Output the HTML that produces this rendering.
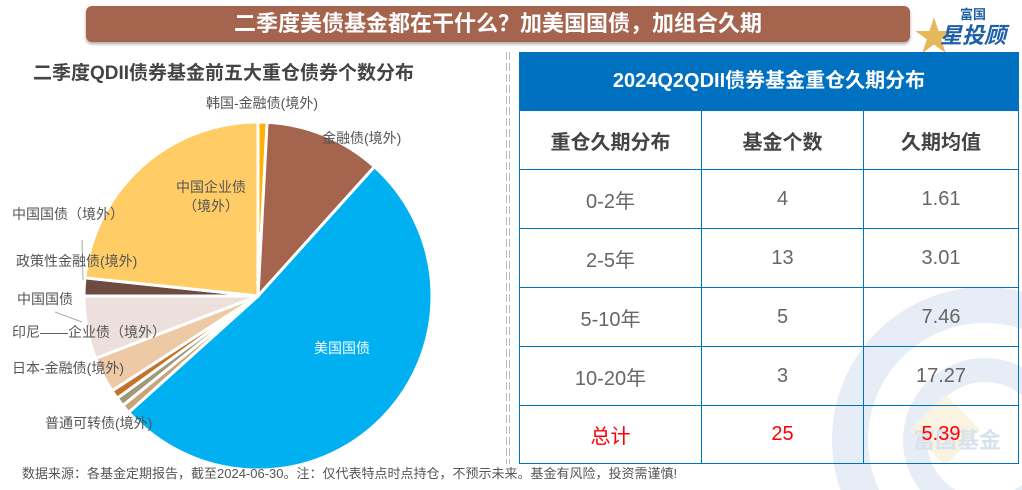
<!DOCTYPE html>
<html style="overflow:hidden;width:1022px;height:490px"><head><meta charset="utf-8">
<style>
html,body{margin:0;width:1022px;height:490px;overflow:hidden;}
body{background:#fff;position:relative;font-family:"Liberation Sans","Noto Sans CJK SC",sans-serif;}
.abs{position:absolute;}
table{border-collapse:collapse;table-layout:fixed;}
td{padding:0;border:1px solid #0070c0;text-align:center;box-sizing:border-box;}
</style></head><body>
<svg class="abs" style="left:0;top:0" width="1022" height="490">
  <circle cx="985" cy="440" r="135" fill="none" stroke="#e6edf6" stroke-width="36"/>
  <circle cx="985" cy="440" r="70" fill="none" stroke="#e6edf6" stroke-width="24"/>
  <rect x="920" y="405" width="50" height="50" fill="#fbf3e2" transform="rotate(45 945 430)"/>
  <text x="913" y="448" font-size="22" font-weight="bold" fill="#d8e1ee" font-family="Liberation Sans,Noto Sans CJK SC,sans-serif">富国基金</text>
</svg>
<div class="abs" style="left:86px;top:6px;width:824px;height:36px;background:#a5644e;border-radius:6px;box-shadow:0 2px 3px rgba(0,0,0,.35);color:#fff;font-weight:bold;font-size:22px;line-height:36px;text-align:center;">二季度美债基金都在干什么？加美国国债，加组合久期</div>
<div class="abs" style="left:914px;top:2px;width:106px;height:46px;">
  <span class="abs" style="left:0;top:2px;font-size:40px;color:#e6b85c;">★</span>
  <span class="abs" style="left:46px;top:2px;font-size:13px;font-weight:bold;color:#1f5fa8;">富国</span>
  <span class="abs" style="left:26px;top:16px;font-size:22px;font-weight:bold;color:#1f5fa8;font-style:italic;">星投顾</span>
</div>
<div class="abs" style="left:33px;top:58px;font-size:19px;font-weight:bold;color:#444;">二季度QDII债券基金前五大重仓债券个数分布</div>
<svg class="abs" style="left:505px;top:52px" width="6" height="412">
  <line x1="1.5" y1="0" x2="1.5" y2="412" stroke="#bbb" stroke-dasharray="8 3"/>
  <line x1="4.5" y1="0" x2="4.5" y2="412" stroke="#bbb" stroke-dasharray="8 3"/>
</svg>
<svg id="pie" class="abs" style="left:0;top:0" width="505" height="470"></svg>
<div class="abs" style="left:519px;top:52px;width:500px;height:58px;background:#0070c0;color:#fff;font-weight:bold;font-size:20px;line-height:58px;text-align:center;">2024Q2QDII债券基金重仓久期分布</div>
<table class="abs" style="left:519px;top:110px;width:500px;height:353px;font-size:20px;color:#666;">
<colgroup><col style="width:182px"><col style="width:162px"><col></colgroup>
<tr style="height:59px;font-weight:bold;color:#444;"><td>重仓久期分布</td><td>基金个数</td><td>久期均值</td></tr>
<tr style="height:59px"><td>0-2年</td><td>4</td><td>1.61</td></tr>
<tr style="height:59px"><td>2-5年</td><td>13</td><td>3.01</td></tr>
<tr style="height:59px"><td>5-10年</td><td>5</td><td>7.46</td></tr>
<tr style="height:59px"><td>10-20年</td><td>3</td><td>17.27</td></tr>
<tr style="height:58px;color:#f00"><td>总计</td><td>25</td><td>5.39</td></tr>
</table>
<div class="abs" style="left:22px;top:466px;font-size:13px;line-height:16px;color:#555;">数据来源：各基金定期报告，截至2024-06-30。注：仅代表特点时点持仓，不预示未来。基金有风险，投资需谨慎!</div>
<script>
const categories=["韩国-金融债(境外)","金融债(境外)","美国国债","普通可转债(境外)","其他","日本-金融债(境外)","印尼——企业债（境外）","中国国债","政策性金融债(境外)","中国企业债（境外）"];
const values=[1,13,62,1,1,1,4,7,2,28];
const colors=["#ffb000","#a5644e","#00b0f0","#c9a47a","#a09a7a","#c0742a","#edc9a6","#ede0dc","#6e4a40","#ffcc66"];
const labelY=[108,143,353,428,null,373,337,304,266,192];
const labelX=[262,322,342,45,null,12,12,17,16,211];
const svg=document.getElementById('pie');
const NS="http://www.w3.org/2000/svg";
const cx=258,cy=296,r=174;
const total=values.reduce((a,b)=>a+b,0);
function pt(a,rr){return [cx+rr*Math.sin(a),cy-rr*Math.cos(a)];}
let acc=0;
values.forEach((v,i)=>{
  const a0=acc/total*2*Math.PI; acc+=v; const a1=acc/total*2*Math.PI;
  const p0=pt(a0,r),p1=pt(a1,r);
  const p=document.createElementNS(NS,'path');
  p.setAttribute('d',`M${cx},${cy}L${p0[0]},${p0[1]}A${r},${r} 0 ${a1-a0>Math.PI?1:0} 1 ${p1[0]},${p1[1]}Z`);
  p.setAttribute('fill',colors[i]);p.setAttribute('stroke','#fff');p.setAttribute('stroke-width','3');
  
  
  svg.appendChild(p);
});
[[82,240,83,280],[55,312,82,322]].forEach(l=>{
  const e=document.createElementNS(NS,'line');
  e.setAttribute('x1',l[0]);e.setAttribute('y1',l[1]);e.setAttribute('x2',l[2]);e.setAttribute('y2',l[3]);
  e.setAttribute('stroke','#aaa');
  
  
  svg.appendChild(e);
});
categories.forEach((c,i)=>{
  if(labelX[i]===null)return;
  const t=document.createElementNS(NS,'text');
  t.setAttribute('x',labelX[i]);t.setAttribute('y',labelY[i]);
  t.setAttribute('font-size','14');
  t.setAttribute('fill',i===2?'#fff':'#555');
  t.setAttribute('font-family','Liberation Sans,Noto Sans CJK SC,sans-serif');
  if(i===0||i===2||i===9)t.setAttribute('text-anchor','middle');
  if(i===9){const a=document.createElementNS(NS,'tspan');a.setAttribute('x',211);a.textContent='中国企业债';const b=document.createElementNS(NS,'tspan');b.setAttribute('x',211);b.setAttribute('dy','19');b.textContent='（境外）';t.appendChild(a);t.appendChild(b);}
  else t.textContent=c;
  
  
  svg.appendChild(t);
});
const t2=document.createElementNS(NS,'text');
t2.setAttribute('x',12);t2.setAttribute('y',219);t2.setAttribute('font-size','14');t2.setAttribute('fill','#555');
t2.setAttribute('font-family','Liberation Sans,Noto Sans CJK SC,sans-serif');
t2.textContent='中国国债（境外）';


svg.appendChild(t2);
</script>
</body></html>
